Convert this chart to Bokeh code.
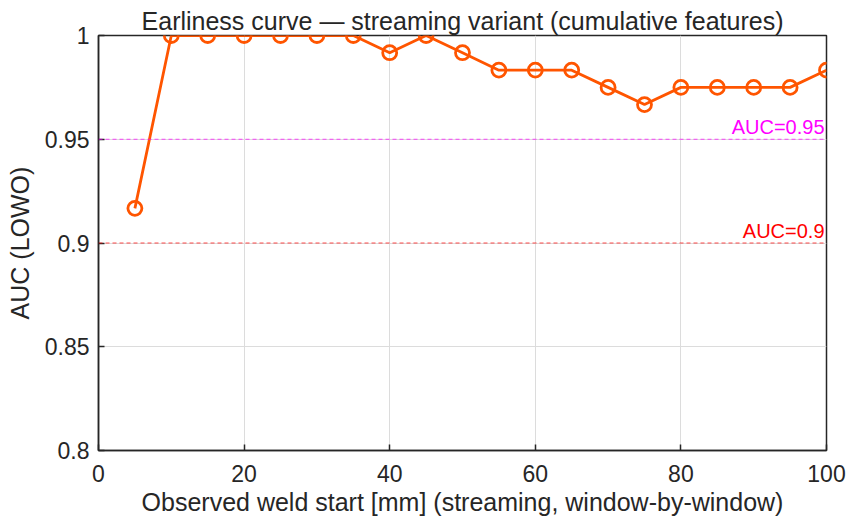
from bokeh.plotting import figure
from bokeh.models import Range1d, FixedTicker, Span, Label
from bokeh.embed import file_html
from bokeh.resources import INLINE

# data
weld_start_mm = [5, 10, 15, 20, 25, 30, 35, 40, 45, 50, 55, 60, 65, 70, 75, 80, 85, 90, 95, 100]
auc_lowo = [0.9167, 1.0, 1.0, 1.0, 1.0, 1.0, 1.0, 0.9917, 1.0, 0.9917, 0.9833, 0.9833, 0.9833,
            0.975, 0.9667, 0.975, 0.975, 0.975, 0.975, 0.9833]
x_ticks = [0, 20, 40, 60, 80, 100]
y_ticks = [0.8, 0.85, 0.9, 0.95, 1.0]
y_tick_labels = ["0.8", "0.85", "0.9", "0.95", "1"]
thresholds = [0.95, 0.9]
threshold_labels = ["AUC=0.95", "AUC=0.9"]
threshold_colors = ["#FF00FF", "#FF0000"]

FONT = "Liberation Sans"
DARK = "#262626"

p = figure(width=848, height=525, output_backend="svg", toolbar_location=None,
           x_range=Range1d(0, 100), y_range=Range1d(0.8, 1.0),
           min_border_left=98, min_border_right=22, min_border_top=35, min_border_bottom=75,
           title="Earliness curve \u2014 streaming variant (cumulative features)")

p.title.text_font = FONT
p.title.text_font_size = "25px"
p.title.text_font_style = "normal"
p.title.text_color = DARK
p.title.align = "center"
p.title.standoff = 1

p.outline_line_color = DARK
p.outline_line_width = 1.5
p.outline_line_alpha = 1.0
p.background_fill_color = "white"
p.border_fill_color = "white"

for ax in (p.xaxis[0], p.yaxis[0]):
    ax.axis_line_color = DARK
    ax.axis_line_width = 1.5
    ax.major_tick_in = 6
    ax.major_tick_out = 0
    ax.minor_tick_in = 0
    ax.minor_tick_out = 0
    ax.major_tick_line_color = DARK
    ax.major_tick_line_width = 1.5
    ax.major_label_text_font = FONT
    ax.major_label_text_font_size = "23px"
    ax.major_label_text_color = DARK
    ax.axis_label_text_font = FONT
    ax.axis_label_text_font_size = "25px"
    ax.axis_label_text_font_style = "normal"
    ax.axis_label_text_color = DARK

p.xaxis.ticker = FixedTicker(ticks=x_ticks)
p.yaxis.ticker = FixedTicker(ticks=y_ticks)
p.yaxis.major_label_overrides = {t: l for t, l in zip(y_ticks, y_tick_labels)}
p.xaxis.axis_label = "Observed weld start [mm] (streaming, window-by-window)"
p.yaxis.axis_label = "AUC (LOWO)"
p.xaxis.major_label_standoff = 14
p.yaxis.major_label_standoff = 9
p.xaxis.axis_label_standoff = 3
p.yaxis.axis_label_standoff = 8

p.xgrid.grid_line_color = "#DCDCDC"
p.ygrid.grid_line_color = "#DCDCDC"
p.xgrid.ticker = FixedTicker(ticks=x_ticks)
p.ygrid.ticker = FixedTicker(ticks=y_ticks)

for th, lab, col in zip(thresholds, threshold_labels, threshold_colors):
    p.add_layout(Span(location=th, dimension="width", line_color=col, line_dash="4 3",
                      line_width=1, line_alpha=0.7))
    p.add_layout(Label(x=100, y=th, text=lab, text_color=col, text_font=FONT,
                       text_font_size="20px", text_align="right", text_baseline="bottom",
                       x_offset=-2, y_offset=1))

ORANGE = "#FF5500"
p.line(weld_start_mm, auc_lowo, line_color=ORANGE, line_width=2.8)
p.scatter(weld_start_mm, auc_lowo, marker="circle", size=14, fill_color=None,
          line_color=ORANGE, line_width=2.8)

open("out.html", "w").write(file_html(p, INLINE))
